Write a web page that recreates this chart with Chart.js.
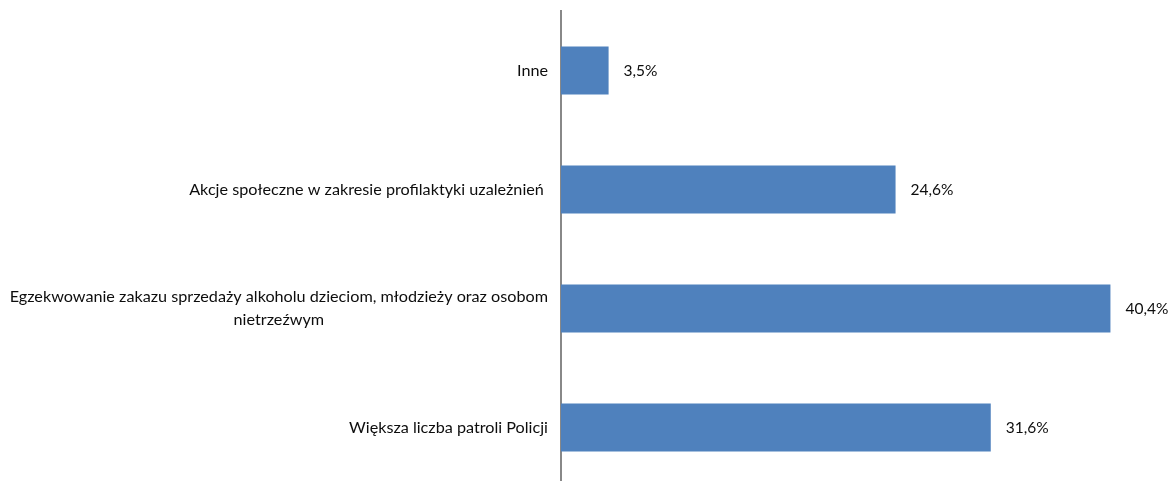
<!DOCTYPE html>
<html><head><meta charset="utf-8">
<script src="https://cdn.jsdelivr.net/npm/chart.js@4"></script>
<style>
html,body{margin:0;padding:0;background:#fff;overflow:hidden;}
#wrap{position:relative;width:1173px;height:488px;}
</style></head>
<body>
<div id="wrap"><canvas id="c"></canvas></div>
<script>
const categories = [
  ["Inne"],
  ["Akcje społeczne w zakresie profilaktyki uzależnień "],
  ["Egzekwowanie zakazu sprzedaży alkoholu dzieciom, młodzieży oraz osobom", "nietrzeźwym"],
  ["Większa liczba patroli Policji"]
];
const values = [3.5, 24.6, 40.4, 31.6];
const valueLabels = ["3,5%", "24,6%", "40,4%", "31,6%"];

const FONT = "16.2px Lato";
const VFONT = "15.5px Lato";
const labelPlugin = {
  id: 'labels',
  afterDraw(chart) {
    const ctx = chart.ctx;
    const y = chart.scales.y;
    const meta = chart.getDatasetMeta(0);
    ctx.save();
    ctx.fillStyle = '#0d0d0d';
    ctx.textBaseline = 'middle';
    const rightEdge = chart.chartArea.left - 13;
    const lh = 22.5;
    categories.forEach((lines, i) => {
      const cy = y.getPixelForValue(i);
      ctx.font = FONT;
      const maxW = Math.max(...lines.map(l => ctx.measureText(l).width));
      const cx = rightEdge - maxW / 2;
      ctx.textAlign = 'center';
      lines.forEach((l, k) => {
        ctx.fillText(l, cx, cy + (k - (lines.length - 1) / 2) * lh);
      });
      const bar = meta.data[i];
      ctx.font = VFONT;
      ctx.textAlign = 'left';
      ctx.fillText(valueLabels[i], bar.x + 15, cy);
    });
    ctx.restore();
  }
};

new Chart(document.getElementById('c'), {
  type: 'bar',
  data: {
    labels: categories.map(c => c.join(' ')),
    datasets: [{
      data: values,
      backgroundColor: '#4F81BD',
      borderWidth: 0,
      categoryPercentage: 1,
      barPercentage: 0.403
    }]
  },
  options: {
    indexAxis: 'y',
    responsive: true,
    maintainAspectRatio: false,
    animation: false,
    layout: { padding: { top: 11, bottom: 1, left: 0, right: 0 } },
    plugins: { legend: { display: false }, tooltip: { enabled: false } },
    scales: {
      x: { display: false, min: 0, max: 45 },
      y: {
        display: true,
        grid: { display: false, drawTicks: false },
        border: { display: true, color: '#888888', width: 2 },
        ticks: { display: false },
        afterFit(scale) { scale.width = 561; }
      }
    }
  },
  plugins: [labelPlugin]
});
</script>
</body></html>
